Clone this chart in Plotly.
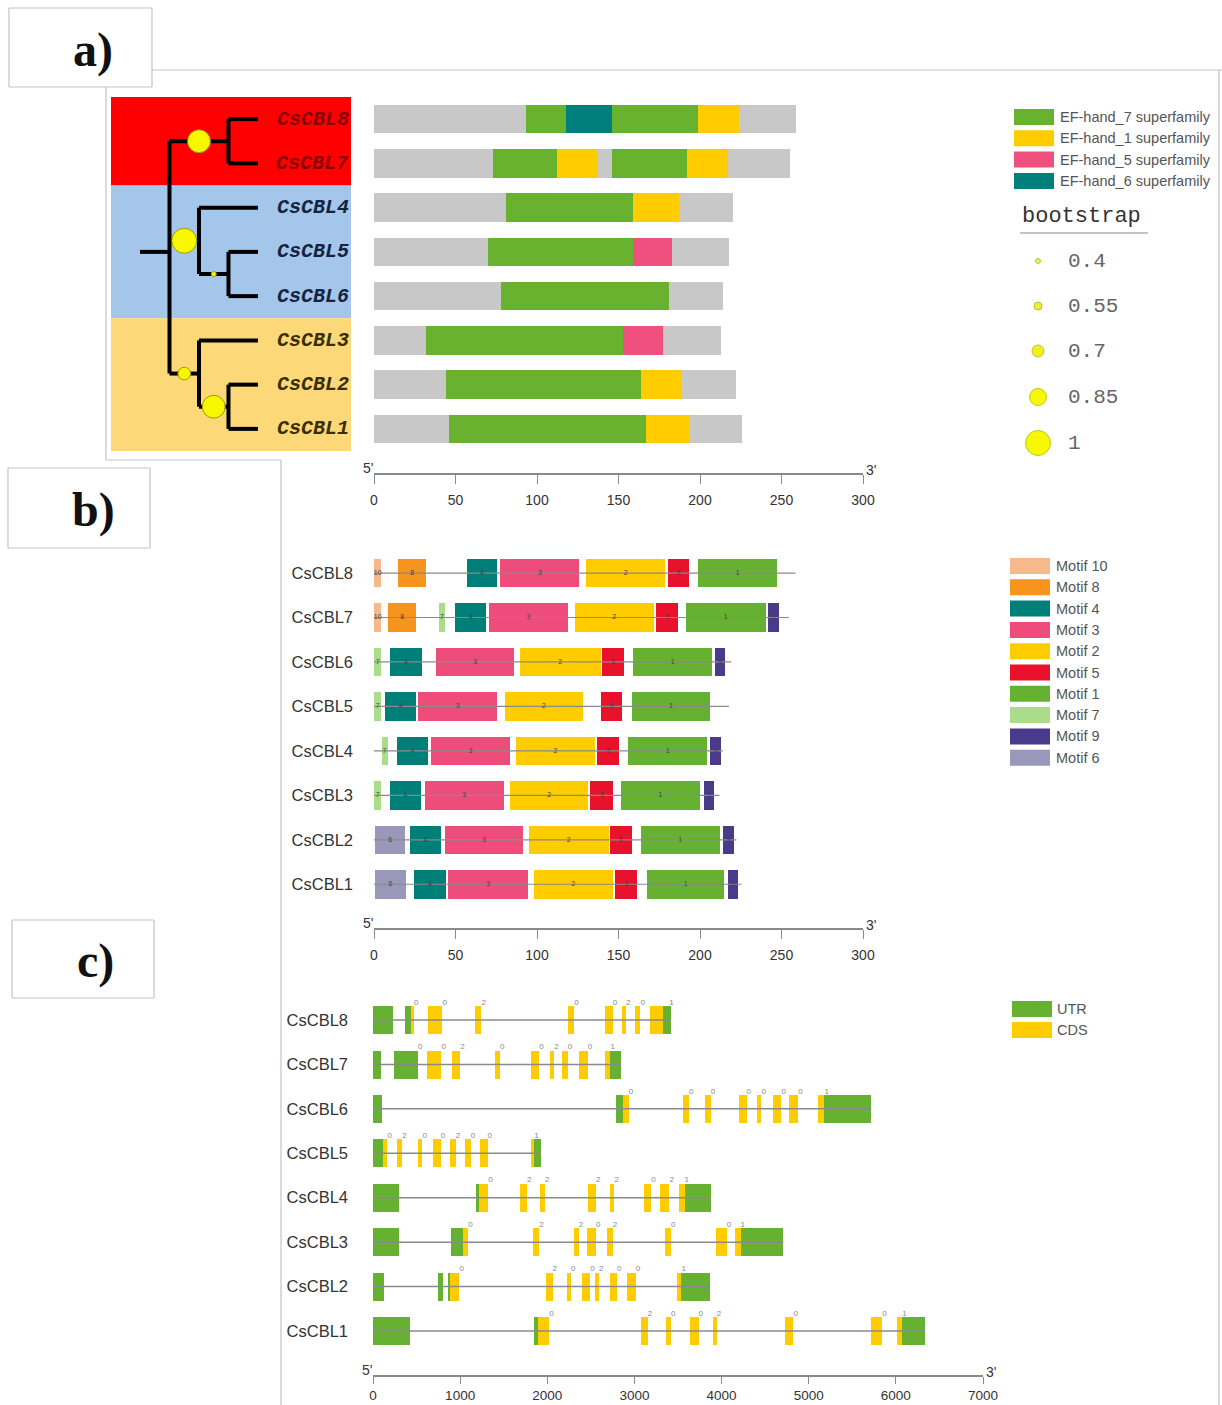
import numpy as np
import plotly.graph_objects as go

W, H = 1222, 1405
def fx(p): return p / W
def fy(p): return 1 - p / H

# ---------------- DATA ----------------
# Panel a: tree order, protein lengths, conserved domains
tree_order = ["CsCBL8", "CsCBL7", "CsCBL4", "CsCBL5", "CsCBL6", "CsCBL3", "CsCBL2", "CsCBL1"]
prot_len_a = [259, 255, 220, 218, 214, 213, 222, 226]
tree = (("CsCBL8", "CsCBL7"), ("CsCBL4", ("CsCBL5", "CsCBL6")), ("CsCBL3", ("CsCBL2", "CsCBL1")))
support_keys = ["CsCBL8,CsCBL7", "CsCBL4,CsCBL5,CsCBL6", "CsCBL5,CsCBL6", "CsCBL3,CsCBL2,CsCBL1", "CsCBL2,CsCBL1"]
support_vals = [0.96, 1.0, 0.4, 0.72, 0.96]
clade_first = [0, 2, 5]
clade_last = [1, 4, 7]
clade_bg = ["#ff0000", "#a4c6ea", "#fdd878"]
clade_text = ["#8a0000", "#14233f", "#3a2e00"]

dom_gene = ["CsCBL8"] * 4 + ["CsCBL7"] * 4 + ["CsCBL4"] * 2 + ["CsCBL5"] * 2 + ["CsCBL6"] + ["CsCBL3"] * 2 + ["CsCBL2"] * 2 + ["CsCBL1"] * 2
dom_name = ["EF-hand_7", "EF-hand_6", "EF-hand_7", "EF-hand_1",
            "EF-hand_7", "EF-hand_1", "EF-hand_7", "EF-hand_1",
            "EF-hand_7", "EF-hand_1",
            "EF-hand_7", "EF-hand_5",
            "EF-hand_7",
            "EF-hand_7", "EF-hand_5",
            "EF-hand_7", "EF-hand_1",
            "EF-hand_7", "EF-hand_1"]
dom_start = [93, 118, 146, 199, 73, 112, 146, 192, 81, 159, 70, 159, 78, 32, 153, 44, 164, 46, 167]
dom_end = [118, 146, 199, 224, 112, 137, 192, 217, 159, 187, 159, 183, 181, 153, 177, 164, 189, 167, 194]
dom_legend = ["EF-hand_7", "EF-hand_1", "EF-hand_5", "EF-hand_6"]
dom_colors = ["#68b230", "#ffcc00", "#f0507e", "#00807a"]

bootstrap_ticks = [0.4, 0.55, 0.7, 0.85, 1.0]
bootstrap_tick_labels = ["0.4", "0.55", "0.7", "0.85", "1"]

# Panel b: motifs
gene_order = ["CsCBL8", "CsCBL7", "CsCBL6", "CsCBL5", "CsCBL4", "CsCBL3", "CsCBL2", "CsCBL1"]
prot_len_b = [258.6, 254.5, 219.2, 217.7, 214, 212, 222.3, 225.4]
motif_gene = (["CsCBL8"] * 7 + ["CsCBL7"] * 9 + ["CsCBL6"] * 7 + ["CsCBL5"] * 6 + ["CsCBL4"] * 7 +
              ["CsCBL3"] * 7 + ["CsCBL2"] * 7 + ["CsCBL1"] * 7)
motif_id = [10, 8, 4, 3, 2, 5, 1,
            10, 8, 7, 4, 3, 2, 5, 1, 9,
            7, 4, 3, 2, 5, 1, 9,
            7, 4, 3, 2, 5, 1,
            7, 4, 3, 2, 5, 1, 9,
            7, 4, 3, 2, 5, 1, 9,
            6, 4, 3, 2, 5, 1, 9,
            6, 4, 3, 2, 5, 1, 9]
motif_start = [0, 14.9, 56.8, 77.6, 130, 180.2, 199,
               0, 8.7, 39.8, 49.6, 70.5, 123.2, 173, 191.2, 242,
               0, 9.7, 38.2, 89.6, 139.8, 159, 209.2,
               0, 7, 27, 80.3, 139, 158,
               4.6, 13.9, 35, 86.9, 136.9, 156, 206.1,
               0, 9.7, 31.1, 83.4, 132.7, 151.4, 202.2,
               0.8, 22.2, 43.3, 94.8, 144.5, 163.8, 214.4,
               0.8, 24.7, 45.6, 97.9, 147.7, 167.4, 217.1]
motif_end = [4.5, 31.9, 75.7, 125.9, 178.8, 193.3, 247.2,
             4.5, 25.9, 43.5, 68.9, 119, 171.5, 186.2, 240.4, 248.4,
             4.5, 29.4, 86, 139, 153.5, 207.4, 215.3,
             4.5, 25.9, 75.7, 128, 152.4, 206.3,
             8.3, 33.2, 83.4, 135.6, 150.4, 204.3, 212.6,
             4.5, 29, 79.6, 131.5, 146.6, 200, 208.4,
             19, 40.9, 91.7, 144, 158, 212, 220.7,
             19.5, 44, 94.4, 146.6, 161.6, 215, 223.4]
motif_legend = [10, 8, 4, 3, 2, 5, 1, 7, 9, 6]
motif_colors = ["#f6b98c", "#f7941d", "#007e78", "#ee4d7c", "#ffcc00", "#e8122c",
                "#66b132", "#aadc8a", "#4a3a8c", "#9a98ba"]

# Panel c: gene structures (type, start, end in bp)
gene_len_c = [3421, 2847, 5718, 1927, 3874, 4710, 3870, 6336]
exons_CsCBL8 = [("UTR", 0, 235), ("UTR", 363, 440), ("CDS", 440, 471), ("CDS", 630, 797), ("CDS", 1172, 1245),
                ("CDS", 2240, 2310), ("CDS", 2667, 2750), ("CDS", 2854, 2904), ("CDS", 3004, 3069),
                ("CDS", 3184, 3326), ("UTR", 3326, 3421)]
exons_CsCBL7 = [("UTR", 0, 88), ("UTR", 241, 517), ("CDS", 624, 785), ("CDS", 912, 1000), ("CDS", 1402, 1456),
                ("CDS", 1812, 1908), ("CDS", 2034, 2080), ("CDS", 2168, 2234), ("CDS", 2368, 2464),
                ("CDS", 2667, 2724), ("UTR", 2724, 2847)]
exons_CsCBL6 = [("UTR", 0, 107), ("UTR", 2790, 2866), ("CDS", 2866, 2935), ("CDS", 3555, 3625), ("CDS", 3806, 3875),
                ("CDS", 4195, 4287), ("CDS", 4411, 4458), ("CDS", 4595, 4687), ("CDS", 4778, 4880),
                ("CDS", 5110, 5180), ("UTR", 5180, 5718)]
exons_CsCBL5 = [("UTR", 0, 115), ("CDS", 115, 165), ("CDS", 280, 337), ("CDS", 521, 567), ("CDS", 690, 778),
                ("CDS", 881, 950), ("CDS", 1057, 1123), ("CDS", 1230, 1314), ("CDS", 1812, 1851), ("UTR", 1851, 1927)]
exons_CsCBL4 = [("UTR", 0, 300), ("UTR", 1180, 1218), ("CDS", 1218, 1322), ("CDS", 1690, 1766), ("CDS", 1920, 1973),
                ("CDS", 2471, 2559), ("CDS", 2724, 2770), ("CDS", 3115, 3192), ("CDS", 3295, 3402),
                ("CDS", 3517, 3575), ("UTR", 3575, 3874)]
exons_CsCBL3 = [("UTR", 0, 300), ("UTR", 900, 1027), ("CDS", 1027, 1092), ("CDS", 1839, 1908), ("CDS", 2303, 2360),
                ("CDS", 2456, 2559), ("CDS", 2686, 2751), ("CDS", 3356, 3421), ("CDS", 3935, 4058),
                ("CDS", 4157, 4218), ("UTR", 4218, 4710)]
exons_CsCBL2 = [("UTR", 0, 126), ("UTR", 751, 808), ("UTR", 855, 885), ("CDS", 885, 992), ("CDS", 1985, 2061),
                ("CDS", 2226, 2272), ("CDS", 2395, 2494), ("CDS", 2548, 2594), ("CDS", 2724, 2800),
                ("CDS", 2912, 3015), ("CDS", 3487, 3540), ("UTR", 3540, 3870)]
exons_CsCBL1 = [("UTR", 0, 425), ("UTR", 1851, 1889), ("CDS", 1889, 2023), ("CDS", 3077, 3153), ("CDS", 3364, 3421),
                ("CDS", 3640, 3736), ("CDS", 3900, 3946), ("CDS", 4733, 4825), ("CDS", 5718, 5843),
                ("CDS", 6015, 6072), ("UTR", 6072, 6336)]
phase_pos = [[470, 797, 1245, 2310, 2750, 2904, 3069, 3400],
             [517, 785, 1000, 1456, 1908, 2080, 2234, 2464, 2724],
             [2935, 3625, 3875, 4287, 4458, 4687, 4880, 5180],
             [165, 337, 567, 778, 950, 1123, 1314, 1851],
             [1322, 1766, 1973, 2559, 2770, 3192, 3402, 3575],
             [1092, 1908, 2360, 2559, 2751, 3421, 4058, 4218],
             [992, 2061, 2272, 2494, 2594, 2800, 3015, 3540],
             [2023, 3153, 3421, 3736, 3946, 4825, 5843, 6072]]
phase_txt = [["0", "0", "2", "0", "0", "2", "0", "1"],
             ["0", "0", "2", "0", "0", "2", "0", "0", "1"],
             ["0", "0", "0", "0", "0", "0", "0", "1"],
             ["0", "2", "0", "0", "2", "0", "0", "1"],
             ["0", "2", "2", "2", "2", "0", "2", "1"],
             ["0", "2", "2", "0", "2", "0", "0", "1"],
             ["0", "2", "0", "0", "2", "0", "0", "1"],
             ["0", "2", "0", "0", "2", "0", "0", "1"]]
struct_legend = ["UTR", "CDS"]
struct_colors = ["#66b032", "#ffcc00"]

# ---------------- FIGURE ----------------
GREY = "#c8c8c8"
LINE = "#8a8a8a"
TXT = "#333333"
fig = go.Figure()

# ---- panel a bars ----
rows_a = {g: i for i, g in enumerate(tree_order)}
fig.add_trace(go.Bar(y=list(range(len(tree_order))), x=prot_len_a, base=[0] * len(tree_order),
                     orientation="h", width=0.64, marker=dict(color=GREY, line=dict(width=0)),
                     xaxis="x", yaxis="y", showlegend=False, hoverinfo="skip"))
for name, col in zip(dom_legend, dom_colors):
    ys, xs, bs = [], [], []
    for g, n, s, e in zip(dom_gene, dom_name, dom_start, dom_end):
        if n == name:
            ys.append(rows_a[g]); bs.append(s); xs.append(e - s)
    fig.add_trace(go.Bar(y=ys, x=xs, base=bs, orientation="h", width=0.64,
                         marker=dict(color=col, line=dict(width=0)),
                         xaxis="x", yaxis="y", showlegend=False, hoverinfo="skip"))

# ---- tree ----
sup = dict(zip(support_keys, support_vals))
LEAF_X = 4
tx, ty = [], []
cx, cy, cs = [], [], []

def leaves(node):
    return [node] if isinstance(node, str) else sum([leaves(c) for c in node], [])

def lay(node):
    if isinstance(node, str):
        return LEAF_X, rows_a[node]
    kids = [(lay(c), c) for c in node]
    x = min(k[0][0] for k in kids) - 1
    ysk = [k[0][1] for k in kids]
    y = float(np.mean(ysk))
    tx.extend([x, x, None]); ty.extend([min(ysk), max(ysk), None])
    for (kx, ky), c in kids:
        tx.extend([x, kx, None]); ty.extend([ky, ky, None])
        if not isinstance(c, str):
            key = ",".join(leaves(c))
            if key in sup:
                cx.append((x + kx) / 2); cy.append(ky); cs.append(sup[key])
    return x, y

rx, ry = lay(tree)
tx.extend([rx - 1, rx, None]); ty.extend([ry, ry, None])
fig.add_trace(go.Scatter(x=tx, y=ty, mode="lines", line=dict(color="black", width=4),
                         xaxis="x4", yaxis="y", showlegend=False, hoverinfo="skip"))
size_map_v = bootstrap_ticks
size_map_s = [5, 8, 12, 17, 25]
fig.add_trace(go.Scatter(x=cx, y=cy, mode="markers",
                         marker=dict(size=np.interp(cs, size_map_v, size_map_s), color="#f7f700",
                                     opacity=1, line=dict(color="#9c9c00", width=1)),
                         xaxis="x4", yaxis="y", showlegend=False, hoverinfo="skip"))

# ---- panel b ----
rows_b = {g: i for i, g in enumerate(gene_order)}
lx, ly = [], []
for i, L in enumerate(prot_len_b):
    lx.extend([0, L, None]); ly.extend([i, i, None])
fig.add_trace(go.Scatter(x=lx, y=ly, mode="lines", line=dict(color=LINE, width=1.2),
                         xaxis="x2", yaxis="y2", showlegend=False, hoverinfo="skip"))
for mid, col in zip(motif_legend, motif_colors):
    ys, xs, bs = [], [], []
    for g, m, s, e in zip(motif_gene, motif_id, motif_start, motif_end):
        if m == mid:
            ys.append(rows_b[g]); bs.append(s); xs.append(e - s)
    fig.add_trace(go.Bar(y=ys, x=xs, base=bs, orientation="h", width=0.64,
                         marker=dict(color=col, line=dict(width=0)),
                         xaxis="x2", yaxis="y2", showlegend=False, hoverinfo="skip"))
fig.add_trace(go.Scatter(x=[(s + e) / 2 for s, e in zip(motif_start, motif_end)],
                         y=[rows_b[g] for g in motif_gene], text=[str(m) for m in motif_id],
                         mode="text", textfont=dict(size=7, color="#444", family="Liberation Sans"),
                         xaxis="x2", yaxis="y2", showlegend=False, hoverinfo="skip"))

# ---- panel c ----
all_exons = [exons_CsCBL8, exons_CsCBL7, exons_CsCBL6, exons_CsCBL5,
             exons_CsCBL4, exons_CsCBL3, exons_CsCBL2, exons_CsCBL1]
lx, ly = [], []
for i, L in enumerate(gene_len_c):
    lx.extend([0, L, None]); ly.extend([i, i, None])
fig.add_trace(go.Scatter(x=lx, y=ly, mode="lines", line=dict(color=LINE, width=1.5),
                         xaxis="x3", yaxis="y3", showlegend=False, hoverinfo="skip"))
for typ, col in zip(struct_legend, struct_colors):
    ys, xs, bs = [], [], []
    for i, ex in enumerate(all_exons):
        for t, s, e in ex:
            if t == typ:
                ys.append(i); bs.append(s); xs.append(e - s)
    fig.add_trace(go.Bar(y=ys, x=xs, base=bs, orientation="h", width=0.63,
                         marker=dict(color=col, line=dict(width=0)),
                         xaxis="x3", yaxis="y3", showlegend=False, hoverinfo="skip"))
px_, py_, pt_ = [], [], []
for i, (pp, tt) in enumerate(zip(phase_pos, phase_txt)):
    for p, t in zip(pp, tt):
        px_.append(p); py_.append(i - 0.3); pt_.append(t)
fig.add_trace(go.Scatter(x=px_, y=py_, text=pt_, mode="text", textposition="top right",
                         textfont=dict(size=8, color="#888", family="Liberation Sans"),
                         xaxis="x3", yaxis="y3", showlegend=False, hoverinfo="skip"))

# ---- overlay (pixel) layer: bootstrap legend circles ----
leg_y = [261, 306, 351, 397, 443]
fig.add_trace(go.Scatter(x=[1038] * 5, y=leg_y, mode="markers",
                         marker=dict(size=size_map_s, color=["#e4f26a", "#e8ee40", "#f0f020", "#f7f700", "#f7f700"],
                                     opacity=1, line=dict(color="#b8b800", width=0.8)),
                         xaxis="x5", yaxis="y5", showlegend=False, hoverinfo="skip"))

shapes = []
annotations = []

# tree clade backgrounds
for f, l, c in zip(clade_first, clade_last, clade_bg):
    y0 = f - 0.5 if f > 0 else -0.61
    y1 = l + 0.5 if l < 7 else 7.53
    shapes.append(dict(type="rect", xref="x4 domain", yref="y", x0=0, x1=1, y0=y0, y1=y1,
                       fillcolor=c, line=dict(width=0), layer="below"))
# tree labels
for k, (f, l) in enumerate(zip(clade_first, clade_last)):
    for r in range(f, l + 1):
        annotations.append(dict(xref="x4 domain", yref="y", x=1, y=r, text=tree_order[r],
                                xanchor="right", yanchor="middle", showarrow=False,
                                font=dict(family="Liberation Mono", size=20, color=clade_text[k],
                                          weight="bold", style="italic")))

def ov_rect(x0, y0, x1, y1, color):
    shapes.append(dict(type="rect", xref="x5", yref="y5", x0=x0, x1=x1, y0=y0, y1=y1,
                       fillcolor=color, line=dict(width=0)))

def ov_line(x0, y0, x1, y1, color="#c4c4c4", w=1.2):
    shapes.append(dict(type="line", xref="x5", yref="y5", x0=x0, x1=x1, y0=y0, y1=y1,
                       line=dict(color=color, width=w)))

def ov_text(x, y, t, size, color, family="Liberation Sans", anchor="left", **kw):
    annotations.append(dict(xref="x5", yref="y5", x=x, y=y, text=t, showarrow=False,
                            xanchor=anchor, yanchor="middle",
                            font=dict(family=family, size=size, color=color, **kw)))

# domain legend
for i, (n, c) in enumerate(zip(dom_legend, dom_colors)):
    yc = 117 + 21.3 * i
    ov_rect(1014, yc - 8, 1054, yc + 8, c)
    ov_text(1058, yc, n + " superfamily", 14.5, "#555")
ov_text(1020, 216, "bootstrap", 22, "#333", family="Liberation Mono")
ov_line(1020, 233, 1148, 233, "#888", 1)
for yv, lab in zip(leg_y, bootstrap_tick_labels):
    ov_text(1066, yv, lab, 21, "#666", family="Liberation Mono")

# motif legend
for i, (m, c) in enumerate(zip(motif_legend, motif_colors)):
    yc = 566 + 21.3 * i
    ov_rect(1010, yc - 8, 1050, yc + 8, c)
    ov_text(1054, yc, "Motif " + str(m), 14.5, "#555")

# gene legend
for i, (n, c) in enumerate(zip(struct_legend, struct_colors)):
    yc = 1009 + 21 * i
    ov_rect(1012, yc - 8, 1052, yc + 8, c)
    ov_text(1055, yc, n, 14.5, "#555")

# panel label boxes and frames
for (x0, y0, x1, y1, lab, lx_) in [(9, 8, 152, 87, "a)", 93), (8, 468, 150, 548, "b)", 93),
                                    (12, 920, 154, 998, "c)", 95)]:
    ov_line(x0, y0, x1, y0); ov_line(x0, y0, x0, y1); ov_line(x0, y1, x1, y1); ov_line(x1, y0, x1, y1)
    ov_text(lx_, (y0 + y1) / 2 + 2, lab, 48, "#111", family="Liberation Serif",
            anchor="center", weight="bold")
ov_line(152, 70, 1222, 70)
ov_line(106, 87, 106, 460)
ov_line(106, 460, 281, 460)
ov_line(281, 460, 281, 1405)
ov_line(1219, 70, 1219, 1405)

# 5' / 3' labels
for xa, ypix, xmax in [("x", 474, 300), ("x2", 929, 300), ("x3", 1376, 7000)]:
    annotations.append(dict(xref=xa, yref="paper", x=0, y=fy(ypix), text="5'", showarrow=False,
                            xanchor="right", yanchor="bottom", xshift=1, yshift=-4,
                            font=dict(family="Liberation Sans", size=14, color=TXT)))
    annotations.append(dict(xref=xa, yref="paper", x=xmax, y=fy(ypix), text="3'", showarrow=False,
                            xanchor="left", yanchor="bottom", xshift=1, yshift=-6,
                            font=dict(family="Liberation Sans", size=14, color=TXT)))

tickfont = dict(family="Liberation Sans", size=14, color=TXT)
def xax(dom, rng, pos, tv, ticklen=9, standoff=4, font=tickfont):
    return dict(domain=dom, range=rng, anchor="free", position=pos, showline=True, linecolor=LINE,
                linewidth=1.5, ticks="outside", ticklen=ticklen, tickcolor=LINE, tickwidth=1,
                tickvals=tv, tickfont=font, showgrid=False, zeroline=False,
                ticklabelstandoff=standoff, fixedrange=True, automargin=False)

fig.update_layout(
    width=W, height=H, margin=dict(l=0, r=0, t=0, b=0, pad=0), autosize=False,
    paper_bgcolor="white", plot_bgcolor="rgba(0,0,0,0)", barmode="overlay", bargap=0,
    xaxis=xax([fx(374), fx(863)], [0, 300], fy(474), list(range(0, 301, 50))),
    yaxis=dict(domain=[fy(451), fy(97)], range=[7.5, -0.5], anchor="x", visible=False,
               fixedrange=True, automargin=False),
    xaxis4=dict(domain=[fx(111), fx(351)], range=[-0.983, 7.153], anchor="y", visible=False,
                automargin=False),
    xaxis2=xax([fx(374), fx(863)], [0, 300], fy(929), list(range(0, 301, 50))),
    yaxis2=dict(domain=[fy(906.5), fy(550.8)], range=[7.5, -0.5], anchor="x2", tickvals=list(range(8)),
                ticktext=gene_order, ticks="", showline=False, showgrid=False, zeroline=False,
                ticklabelstandoff=20, automargin=False,
                tickfont=dict(family="Liberation Sans", size=16.5, color=TXT)),
    xaxis3=xax([fx(373), fx(983)], [0, 7000], fy(1376), list(range(0, 7001, 1000)),
               ticklen=7, standoff=0, font=dict(family="Liberation Sans", size=13.5, color=TXT)),
    yaxis3=dict(domain=[fy(1353.2), fy(997.8)], range=[7.5, -0.5], anchor="x3", tickvals=list(range(8)),
                ticktext=gene_order, ticks="", showline=False, showgrid=False, zeroline=False,
                ticklabelstandoff=24, automargin=False,
                tickfont=dict(family="Liberation Sans", size=16.5, color=TXT)),
    xaxis5=dict(domain=[0, 1], range=[0, W], anchor="y5", visible=False, automargin=False),
    yaxis5=dict(domain=[0, 1], range=[H, 0], anchor="x5", visible=False, automargin=False),
    shapes=shapes, annotations=annotations,
)
fig.write_html("out.html", config={"displayModeBar": False},
               post_script="document.body.style.margin='0';document.body.style.padding='0';"
                           "document.body.style.overflow='hidden';")
